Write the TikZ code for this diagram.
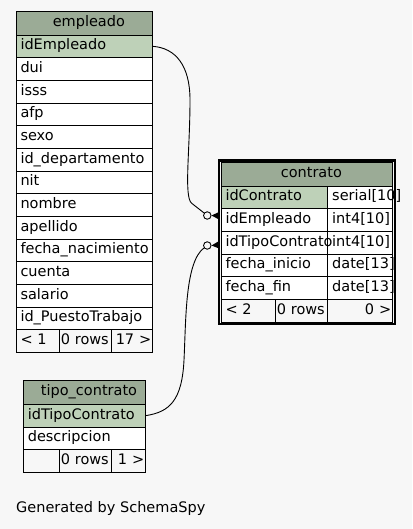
\documentclass[tikz,border=0pt]{standalone}
\usepackage{fontspec}
\setmainfont{DejaVu Sans}
\usetikzlibrary{fit}
\definecolor{bggray}{HTML}{F7F7F7}
\definecolor{hdrgreen}{HTML}{9BAB96}
\definecolor{pkgreen}{HTML}{BED1B8}
\newcommand\tblfont{\fontsize{14.5pt}{17pt}\selectfont}
\hyphenpenalty=10000
\exhyphenpenalty=10000
\tikzset{
  cell/.style  = {draw, line width=0.9pt, anchor=north west, outer sep=0pt,
                  minimum height=22.67pt, inner xsep=4.5pt, inner ysep=0pt,
                  text height=10.5pt, text depth=3.5pt, align=left,
                  font=\tblfont},
  hdr/.style   = {cell, fill=hdrgreen, align=center, minimum height=23.3pt},
  pk/.style    = {cell, fill=pkgreen},
  col/.style   = {cell, fill=white},
  foot/.style  = {cell, fill=bggray, inner xsep=1.5pt},
  frame/.style = {draw, line width=2.4pt, inner sep=2.2pt},
  odot/.style  = {circle, draw, line width=0.9pt, fill=bggray, inner sep=0pt,
                  minimum size=7.5pt},
  rel/.style   = {line width=0.9pt}
}
\begin{document}
\begin{tikzpicture}[x=1pt, y=-1pt]
  \fill[bggray] (0,0) rectangle (412,529);
  \useasboundingbox (0,0) rectangle (412,529);

  % empleado
  \node[hdr, text width=127.7pt] (emp-h) at (16,11.7) {\hspace*{9pt}empleado};
  \node[pk, text width=127.7pt] (emp-0) at (16,35) {idEmpleado};
  \foreach \cname [count=\i] in {dui, isss, afp, sexo, id\_departamento, nit,
      nombre, apellido, fecha\_nacimiento, cuenta, salario, id\_PuestoTrabajo}
    \node[col, text width=127.7pt] (emp-\i) at (16,{35+22.67*\i}) {\cname};
  \node[foot, inner xsep=4.5pt, text width=34.3pt] (emp-f1) at (16,329.7) {< 1};
  \node[foot, text width=49.4pt] (emp-f2) at (59.3,329.7) {0 rows};
  \node[foot, text width=38pt, align=right] (emp-f3) at (111.7,329.7) {17 >};

  % contrato
  \node[hdr, text width=162.7pt] (con-h) at (221,162.7) {\hspace*{9pt}contrato};
  \node[pk, text width=97.7pt] (con-0a) at (221,186) {idContrato};
  \node[col, text width=56pt] (con-0b) at (327.7,186) {serial[10]};
  \foreach \cname/\ctype [count=\i] in {idEmpleado/int4[10],
      idTipoContrato/int4[10], fecha\_inicio/date[13], fecha\_fin/date[13]}
  {
    \node[col, text width=56pt] (con-\i b) at (327.7,{186+22.67*\i}) {\ctype};
    \node[col, text width=97.7pt] (con-\i a) at (221,{186+22.67*\i}) {\cname};
  }
  \node[foot, inner xsep=4.5pt, text width=45.3pt] (con-f1) at (221,299.3) {< 2};
  \node[foot, text width=49.4pt] (con-f2) at (275.3,299.3) {0 rows};
  \node[foot, text width=62pt, align=right] (con-f3) at (327.7,299.3) {0 >};
  \node[frame, fit=(con-h)(con-f3)] (con-frame) {};

  % tipo_contrato
  \node[hdr, text width=113.4pt, minimum height=23.8pt] (tip-h) at (23.3,380.5)
    {\hspace*{9pt}tipo\_contrato};
  \node[pk, text width=113.4pt] (tip-0) at (23.3,404.3) {idTipoContrato};
  \node[col, text width=113.4pt] (tip-1) at (23.3,427) {descripcion};
  \node[foot, text width=33pt] (tip-f1) at (23.3,449.7) {};
  \node[foot, text width=49.4pt] (tip-f2) at (59.3,449.7) {0 rows};
  \node[foot, text width=31pt, align=right] (tip-f3) at (111.7,449.7) {1 >};

  % relations
  \node[odot] (o1) at (207.3,215.5) {};
  \node[odot] (o2) at (207.3,245.5) {};
  \draw[rel] (emp-0.east) .. controls (176,48) and (190,66) .. (190,100)
    .. controls (190,150) and (183.7,197) .. (191.7,203.3) -- (o1);
  \draw[rel] (tip-0.east) .. controls (170,412) and (182,400) .. (184,360)
    .. controls (186,320) and (185,262) .. (o2);
  \fill (o1.east) -- ++(7.5,-3.5) -- ++(0,7.5) -- cycle;
  \fill (o2.east) -- ++(7.5,-4.5) -- ++(0,7.5) -- cycle;

  \node[anchor=base west, font=\tblfont, inner sep=0pt] (gen) at (16,512.7)
    {Generated by SchemaSpy};
\end{tikzpicture}
\end{document}
